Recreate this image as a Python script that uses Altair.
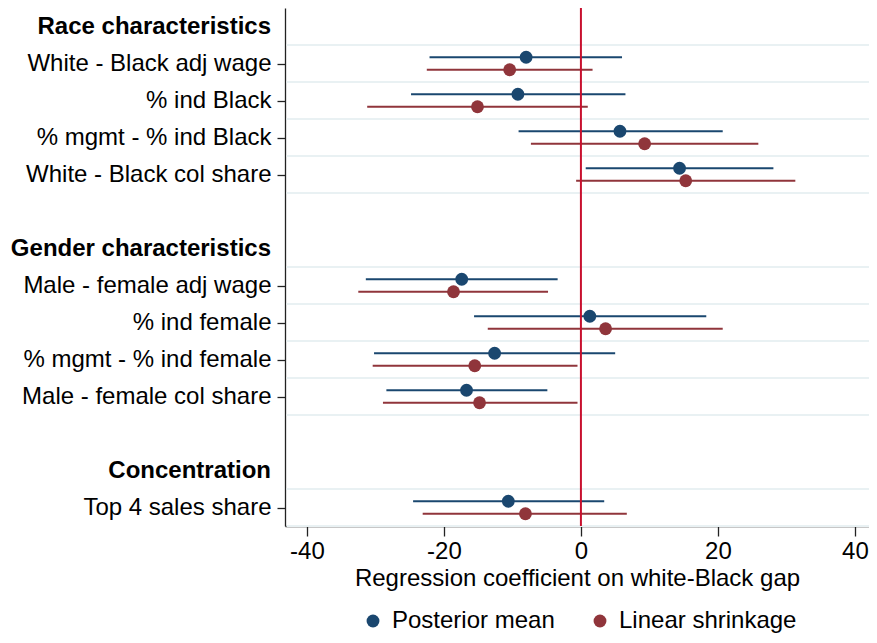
import json
import altair as alt
import pandas as pd

FONT = "Liberation Sans"

# Row labels (data rows) and their slot positions
labels = [
    "White - Black adj wage",
    "% ind Black",
    "% mgmt - % ind Black",
    "White - Black col share",
    "Male - female adj wage",
    "% ind female",
    "% mgmt - % ind female",
    "Male - female col share",
    "Top 4 sales share",
]
rows = [1, 2, 3, 4, 7, 8, 9, 10, 13]

headers = ["Race characteristics", "Gender characteristics", "Concentration"]
header_rows = [0, 6, 12]

series = ["Posterior mean", "Linear shrinkage"]
colors = ["#1a476f", "#90353b"]

post_mean = [-8.0, -9.2, 5.7, 14.4, -17.4, 1.3, -12.6, -16.7, -10.6]
post_lo = [-22.1, -24.8, -9.1, 0.7, -31.4, -15.6, -30.2, -28.4, -24.5]
post_hi = [6.0, 6.5, 20.7, 28.1, -3.4, 18.3, 5.0, -4.9, 3.4]

lin_mean = [-10.4, -15.1, 9.3, 15.3, -18.6, 3.6, -15.5, -14.8, -8.1]
lin_lo = [-22.5, -31.2, -7.3, -0.7, -32.5, -13.6, -30.4, -28.9, -23.1]
lin_hi = [1.7, 1.0, 25.9, 31.3, -4.8, 20.7, -0.5, -0.5, 6.7]

x_ticks = [-40, -20, 0, 20, 40]
x_title = "Regression coefficient on white-Black gap"

# ---- build tables ----
recs = []
for i, lab in enumerate(labels):
    recs.append(dict(label=lab, row=rows[i], series=series[0], mean=post_mean[i], lo=post_lo[i], hi=post_hi[i]))
    recs.append(dict(label=lab, row=rows[i], series=series[1], mean=lin_mean[i], lo=lin_lo[i], hi=lin_hi[i]))
df = pd.DataFrame(recs)

bounds = sorted({r - 0.5 for r in rows} | {r + 0.5 for r in rows})
grid_df = pd.DataFrame({"b": bounds})
head_df = pd.DataFrame({"header": headers, "row": header_rows})
zero_df = pd.DataFrame({"x": [0]})

n_slots = max(rows + header_rows) + 1
slot_labels = [""] * n_slots
for r, lab in zip(rows, labels):
    slot_labels[r] = lab
label_expr = json.dumps(slot_labels) + "[datum.value]"

PAD_L = 277
W, H = 584, 518
PX_PER_UNIT = 6.85
x_lo = -43.2
xscale = alt.Scale(domain=[x_lo, x_lo + W / PX_PER_UNIT], nice=False, zero=False)
yscale = alt.Scale(domain=[-0.5, n_slots - 0.5], reverse=True, nice=False, zero=False)

x_axis = alt.Axis(values=x_ticks, title=x_title, grid=False, tickSize=10, labelPadding=3,
                  titlePadding=3, labelExpr="'' + datum.value")
y_axis = alt.Axis(values=rows, labelExpr=label_expr, title=None, grid=False, tickSize=8,
                  labelPadding=6, labelLimit=400)

offset_expr = "datum.row + (datum.series == '%s' ? -0.17 : 0.17)" % series[0]

grid = alt.Chart(grid_df).mark_rule(color="#e9f1f3", strokeWidth=2).encode(
    y=alt.Y("b:Q", scale=yscale, axis=y_axis),
    x=alt.value(1.5),
    x2=alt.value(W),
)

bars = alt.Chart(df).transform_calculate(pos=offset_expr, ser="datum.series").mark_rule(strokeWidth=2).encode(
    x=alt.X("lo:Q", scale=xscale, axis=x_axis),
    x2="hi:Q",
    y=alt.Y("pos:Q", scale=yscale, axis=y_axis),
    stroke=alt.Stroke("ser:N", scale=alt.Scale(domain=series, range=colors), legend=None),
)

zero = alt.Chart(zero_df).mark_rule(color="#c8102e", strokeWidth=2).encode(
    x=alt.X("x:Q", scale=xscale, axis=x_axis),
)

points = alt.Chart(df).transform_calculate(pos=offset_expr).mark_circle(size=165, opacity=1).encode(
    x=alt.X("mean:Q", scale=xscale, axis=x_axis),
    y=alt.Y("pos:Q", scale=yscale, axis=y_axis),
    fill=alt.Fill(
        "series:N",
        scale=alt.Scale(domain=series, range=colors),
        legend=alt.Legend(
            orient="none", legendX=76, legendY=601, direction="horizontal", title=None,
            labelFontSize=24, labelFont=FONT, labelColor="black", symbolType="circle",
            symbolSize=165, symbolStrokeWidth=0, symbolOpacity=1, columnPadding=33,
            labelOffset=7, padding=0, labelLimit=400,
        ),
    ),
)

heads = alt.Chart(head_df).mark_text(
    align="right", baseline="middle", fontWeight="bold", fontSize=24, font=FONT, color="black"
).encode(
    x=alt.value(-14),
    y=alt.Y("row:Q", scale=yscale, axis=y_axis),
    text="header:N",
)

chart = alt.layer(grid, bars, zero, points, heads).resolve_scale(
    fill="independent", stroke="independent"
).properties(
    width=W, height=H,
    autosize=alt.AutoSizeParams(type="none"),
    padding={"left": PAD_L, "top": 0, "right": 0, "bottom": 109},
).configure_view(stroke=None).configure_axis(
    labelFont=FONT, titleFont=FONT, labelFontSize=24, titleFontSize=24,
    titleFontWeight="normal", labelColor="black", titleColor="black",
    domainColor="#222222", tickColor="#222222", domainWidth=1.3, tickWidth=1.3,
)

chart.save("out.html", embed_options={"renderer": "svg", "actions": False})
